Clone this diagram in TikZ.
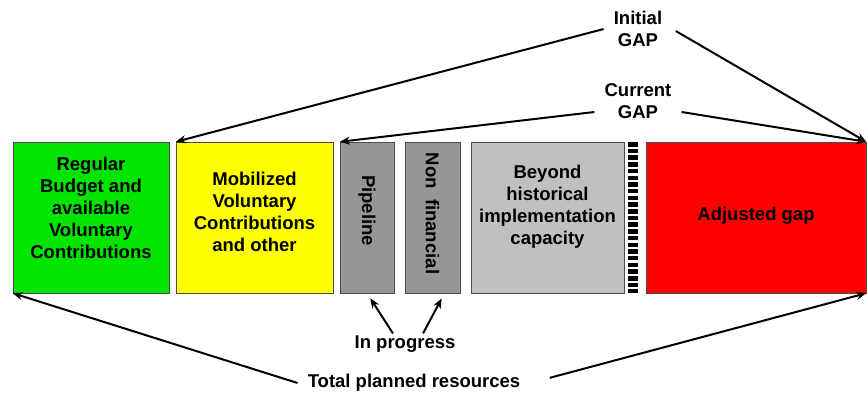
\documentclass[tikz,border=0pt]{standalone}
\usepackage{fontspec}
\setmainfont{Liberation Sans}
\usepackage{tikz}
\usepackage{xcolor}
\usetikzlibrary{arrows.meta,positioning}
\definecolor{budget-green}{RGB}{0,228,0}
\definecolor{mobilized-yellow}{RGB}{255,255,0}
\definecolor{progress-gray}{RGB}{150,150,150}
\definecolor{beyond-gray}{RGB}{192,192,192}
\definecolor{gap-red}{RGB}{255,0,0}
\tikzset{
    block/.style = {draw=black!70, thin, rectangle, minimum height=151pt, inner sep=0pt},
    block-text/.style = {font=\bfseries\fontsize{18.5}{22}\selectfont, align=center, inner sep=0pt},
    note/.style = {font=\bfseries\fontsize{18.5}{22}\selectfont, align=center, inner xsep=10pt, inner ysep=2pt},
    pointer/.style = {-{Stealth[length=10pt,width=8pt]}, line width=2pt},
}

\begin{document}
\begin{tikzpicture}[x=1pt,y=-1pt]
\useasboundingbox (0,0) rectangle (867,394);
% the bar of resources
\node[block, fill=budget-green, minimum width=156pt] (regular) at (91,217.5) {};
\node[block, fill=mobilized-yellow, minimum width=157pt] (mobilized) at (254.5,217.5) {};
\node[block, fill=progress-gray, minimum width=54pt] (pipeline) at (367,217.5) {};
\node[block, fill=progress-gray, minimum width=55pt] (nonfinancial) at (432.5,217.5) {};
\node[block, fill=beyond-gray, minimum width=153pt] (beyond) at (547.5,217.5) {};
\node[block, fill=gap-red, minimum width=220pt] (adjusted) at (756,217.5) {};
\draw[line width=10pt, dash pattern=on 4.5pt off 2.2pt] (633,142) -- (633,293);

\node[block-text] at ([yshift=10pt]regular.center) {Regular\\Budget and\\available\\Voluntary\\Contributions};
\node[block-text] at ([yshift=6pt]mobilized.center) {Mobilized\\Voluntary\\Contributions\\and other};
\node[block-text, rotate=-90] at ([yshift=7pt]pipeline.center) {Pipeline};
\node[block-text, rotate=-90] at ([yshift=4pt]nonfinancial.center) {Non\ \ financial};
\node[block-text] at ([yshift=11pt]beyond.center) {Beyond\\historical\\implementation\\capacity};
\node[block-text] at ([yshift=2pt]adjusted.center) {Adjusted gap};

% labels round the bar
\node[note] (initial) at (638,29) {Initial\\GAP};
\node[note] (current) at (638,101) {Current\\GAP};
\node[note] (progress) at (405,344) {In progress};
\node[note] (total) at (414,383) {Total planned resources};

\draw[pointer] (initial.west) -- (mobilized.north west);
\draw[pointer, shorten <=4pt] (initial.east) -- (adjusted.north east);
\draw[pointer] ([yshift=-11pt]current.west) -- (pipeline.north west);
\draw[pointer] ([yshift=-11pt]current.east) -- (adjusted.north east);
\draw[pointer, shorten >=6pt] ([xshift=-12pt]progress.north) -- (pipeline.south);
\draw[pointer, shorten >=6pt] ([xshift=18pt]progress.north) -- ([xshift=12pt]nonfinancial.south);
\draw[pointer] (total.west) -- (regular.south west);
\draw[pointer, shorten <=20pt] (total.east) -- (adjusted.south east);
\end{tikzpicture}
\end{document}
